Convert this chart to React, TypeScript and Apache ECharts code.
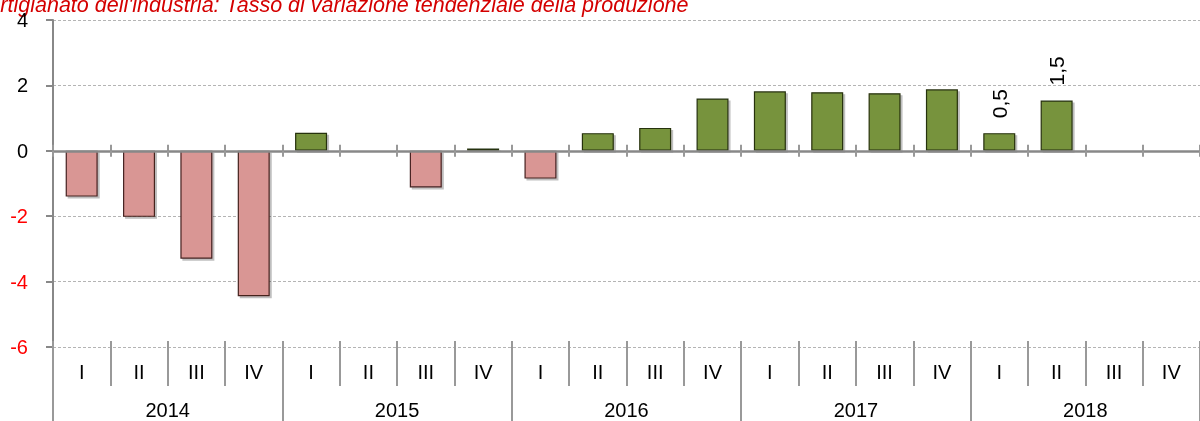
import React, { useEffect, useRef } from "react";
import * as echarts from "echarts";

const years = ["2014", "2015", "2016", "2017", "2018"];
const quarterNames = ["I", "II", "III", "IV"];
const categories = years.flatMap((y) => quarterNames.map((q) => `${y}-${q}`));
const values: (number | null)[] = [
  -1.4, -2.02, -3.3, -4.45,
  0.55, null, -1.12, 0.07,
  -0.85, 0.54, 0.7, 1.6,
  1.82, 1.79, 1.76, 1.88,
  0.54, 1.54, null, null,
];
const labelledCategories = ["2018-I", "2018-II"];
const yTicks = { min: -6, max: 4, interval: 2 };
const titleText = "Artigianato dell'industria: Tasso di variazione tendenziale della produzione";

const FONT = '"Liberation Sans", Arial, sans-serif';

export default function App() {
  const ref = useRef<HTMLDivElement>(null);
  useEffect(() => {
    if (!ref.current) return;
    const chart = echarts.init(ref.current, undefined, { renderer: "svg" });
    const grid = { left: 53, top: 20, width: 1156, height: 327 };
    const barData = values.map((v, i) => {
      if (v === null) return null;
      const neg = v < 0;
      const showLabel = labelledCategories.includes(categories[i]);
      return {
        value: v,
        itemStyle: {
          color: neg ? "#d99694" : "#77933c",
          borderColor: neg ? "#45201f" : "#27310f",
          borderWidth: 1.2,
          shadowColor: "rgba(0,0,0,0.25)",
          shadowOffsetX: 2,
          shadowOffsetY: 2,
          shadowBlur: 1,
        },
        label: { show: showLabel },
      };
    });
    chart.setOption({
      animation: false,
      grid,
      graphic: [
        {
          type: "text",
          x: -14,
          y: 5,
          silent: true,
          style: {
            text: titleText,
            fill: "#d40000",
            font: `italic 21.5px ${FONT}`,
            verticalAlign: "middle",
          },
        },
      ],
      xAxis: [
        {
          type: "category",
          data: categories,
          axisLine: { onZero: true, lineStyle: { color: "#888", width: 2.5 } },
          axisTick: { show: true, interval: 0, length: 6, lineStyle: { color: "#999", width: 2 } },
          axisLabel: { show: false },
          splitLine: { show: false },
          z: 3,
        },
        {
          type: "category",
          data: categories,
          position: "top",
          axisLine: { onZero: true, onZeroAxisIndex: 1, show: false },
          axisTick: { show: true, interval: 0, length: 6, lineStyle: { color: "#999", width: 2 } },
          axisLabel: { show: false },
          splitLine: { show: false },
        },
        {
          type: "category",
          data: categories,
          position: "bottom",
          offset: -6,
          axisLine: { onZero: false, show: false },
          axisTick: { show: true, interval: 0, length: 45, lineStyle: { color: "#999", width: 2 } },
          axisLabel: {
            interval: 0,
            margin: 21,
            fontSize: 20,
            color: "#000",
            fontFamily: FONT,
            formatter: (v: string) => v.split("-")[1],
          },
          splitLine: { show: false },
        },
        {
          type: "category",
          data: years,
          position: "bottom",
          offset: -6,
          axisLine: { onZero: false, show: false },
          axisTick: { show: true, interval: 0, length: 80, lineStyle: { color: "#999", width: 2 } },
          axisLabel: { interval: 0, margin: 59, fontSize: 20, color: "#000", fontFamily: FONT },
          splitLine: { show: false },
        },
      ],
      yAxis: [
        {
          type: "value",
          min: yTicks.min,
          max: yTicks.max,
          interval: yTicks.interval,
          axisLine: { show: true, lineStyle: { color: "#888", width: 2 } },
          axisTick: { show: true, length: 7, lineStyle: { color: "#888", width: 2 } },
          axisLabel: {
            margin: 25,
            fontSize: 20,
            fontFamily: FONT,
            color: (v: any) => (Number(v) < 0 ? "#ff0000" : "#000000"),
          },
          splitLine: { show: true, lineStyle: { color: "#b4b4b4", width: 1, type: [3, 2] } },
        },
        {
          type: "value",
          min: yTicks.min,
          max: yTicks.max,
          interval: yTicks.interval,
          show: false,
          splitLine: { show: false },
        },
      ],
      series: [
        {
          type: "bar",
          xAxisIndex: 0,
          yAxisIndex: 0,
          data: barData,
          barWidth: 32,
          z: 2,
          label: {
            show: false,
            position: "top",
            distance: 15,
            rotate: 90,
            align: "left",
            verticalAlign: "middle",
            fontSize: 21,
            fontFamily: FONT,
            color: "#000",
            formatter: (p: any) => Number(p.value).toFixed(1).replace(".", ","),
          },
        },
      ],
    });
    return () => chart.dispose();
  }, []);
  return (
    <div
      ref={ref}
      style={{ position: "fixed", left: 0, top: 0, width: 1200, height: 421 }}
    />
  );
}
